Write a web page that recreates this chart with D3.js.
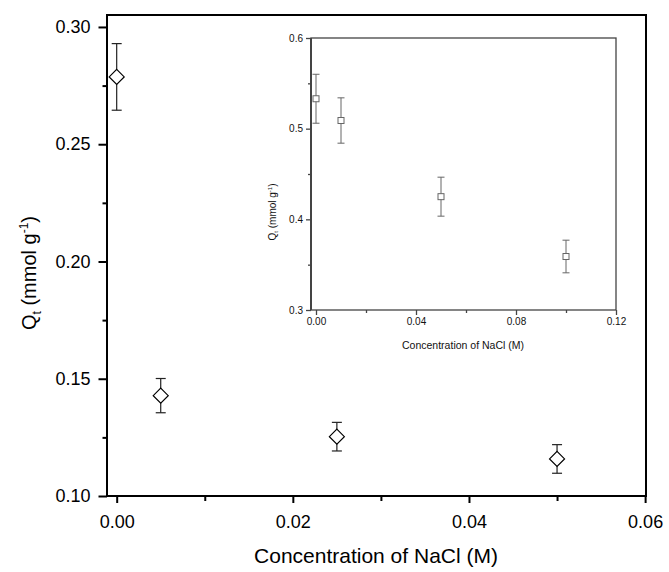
<!DOCTYPE html>
<html><head><meta charset="utf-8">
<script src="https://cdn.jsdelivr.net/npm/d3@7"></script>
<style>body{margin:0;background:#fff;}svg{display:block;font-family:Arial,"Liberation Sans",sans-serif;}</style>
</head><body>
<svg id="c" width="669" height="572"></svg>
<script>
// Main data
const mainX = [0, 0.005, 0.025, 0.05];
const mainY = [0.2787, 0.1428, 0.1253, 0.1158];
const mainErr = [0.0142, 0.0073, 0.0061, 0.0061];
const mainXTicks = [0, 0.02, 0.04, 0.06];
const mainYTicks = [0.10, 0.15, 0.20, 0.25, 0.30];
// Inset data
const insetX = [0, 0.01, 0.05, 0.10];
const insetY = [0.533, 0.509, 0.425, 0.359];
const insetErr = [0.027, 0.025, 0.0215, 0.018];
const insetXTicks = [0, 0.04, 0.08, 0.12];
const insetYTicks = [0.3, 0.4, 0.5, 0.6];

const svg = d3.select("#c");

// Main chart
const M = {l:107, r:646, t:15, b:496};
const x = d3.scaleLinear().domain([-0.0011, 0.0601]).range([M.l, M.r]);
const y = d3.scaleLinear().domain([0.10, 0.3051]).range([M.b, M.t]);

const gm = svg.append("g");
gm.append("rect").attr("x",M.l).attr("y",M.t).attr("width",M.r-M.l).attr("height",M.b-M.t)
  .attr("fill","none").attr("stroke","#000").attr("stroke-width",2);

gm.append("g").attr("transform",`translate(0,${M.b})`)
  .call(d3.axisBottom(x).tickValues(mainXTicks).tickFormat(d3.format(".2f")).tickSize(7).tickPadding(12));
gm.append("g").attr("transform",`translate(0,${M.b})`)
  .call(d3.axisBottom(x).tickValues([0.01,0.03,0.05]).tickFormat("").tickSize(5));
gm.append("g").attr("transform",`translate(${M.l},0)`)
  .call(d3.axisLeft(y).tickValues(mainYTicks).tickFormat(d3.format(".2f")).tickSize(8.5).tickPadding(8));
gm.append("g").attr("transform",`translate(${M.l},0)`)
  .call(d3.axisLeft(y).tickValues([0.125,0.175,0.225,0.275]).tickFormat("").tickSize(4.5));
gm.selectAll(".domain").remove();
gm.selectAll(".tick line").attr("stroke","#000").attr("stroke-width",2);
gm.selectAll(".tick text").attr("fill","#000").attr("font-size",18).attr("font-family","Arial,'Liberation Sans',sans-serif");

gm.append("text").attr("x",376).attr("y",563).attr("text-anchor","middle").attr("font-size",21).text("Concentration of NaCl (M)");
const yl = gm.append("text").attr("transform","translate(36,273) rotate(-90)").attr("text-anchor","middle").attr("font-size",20);
yl.append("tspan").text("Q");
yl.append("tspan").attr("font-size",12).attr("dy",5).text("t");
yl.append("tspan").attr("dy",-5).text(" (mmol g");
yl.append("tspan").attr("font-size",12).attr("dy",-8).text("-1");
yl.append("tspan").attr("dy",8).text(")");

const mainData = mainX.map((d,i)=>({x:d,y:mainY[i],e:mainErr[i]}));
const pts = gm.selectAll(".pt").data(mainData).enter().append("g");
pts.append("line").attr("x1",d=>x(d.x)).attr("x2",d=>x(d.x)).attr("y1",d=>y(d.y+d.e)).attr("y2",d=>y(d.y-d.e)).attr("stroke","#222").attr("stroke-width",1.2);
[1,-1].forEach(s=>{
  pts.append("line").attr("x1",d=>x(d.x)-5).attr("x2",d=>x(d.x)+5).attr("y1",d=>y(d.y+s*d.e)).attr("y2",d=>y(d.y+s*d.e)).attr("stroke","#222").attr("stroke-width",1.2);
});
pts.append("path").attr("d",d=>{const cx=x(d.x),cy=y(d.y),r=7.5;return `M${cx},${cy-r}L${cx+r},${cy}L${cx},${cy+r}L${cx-r},${cy}Z`;})
  .attr("fill","#fff").attr("stroke","#000").attr("stroke-width",1.2);

// Inset
const I = {l:311, r:616, t:38, b:310};
const xi = d3.scaleLinear().domain([-0.002, 0.12]).range([I.l, I.r]);
const yi = d3.scaleLinear().domain([0.3, 0.6]).range([I.b, I.t]);
const gi = svg.append("g");
const ic = "#444";
gi.append("rect").attr("x",I.l).attr("y",I.t).attr("width",I.r-I.l).attr("height",I.b-I.t)
  .attr("fill","#fff").attr("stroke",ic).attr("stroke-width",1.3);
gi.append("line").attr("x1",I.l).attr("x2",I.l).attr("y1",I.t).attr("y2",I.b).attr("stroke",ic).attr("stroke-width",2);
gi.append("g").attr("transform",`translate(0,${I.b})`)
  .call(d3.axisBottom(xi).tickValues(insetXTicks).tickFormat(d3.format(".2f")).tickSize(5).tickPadding(3));
gi.append("g").attr("transform",`translate(0,${I.b})`)
  .call(d3.axisBottom(xi).tickValues([0.02,0.06,0.10]).tickFormat("").tickSize(3));
gi.append("g").attr("transform",`translate(${I.l},0)`)
  .call(d3.axisLeft(yi).tickValues(insetYTicks).tickFormat(d3.format(".1f")).tickSize(5).tickPadding(3));
gi.append("g").attr("transform",`translate(${I.l},0)`)
  .call(d3.axisLeft(yi).tickValues([0.35,0.45,0.55]).tickFormat("").tickSize(3));
gi.selectAll(".domain").remove();
gi.selectAll(".tick line").attr("stroke",ic).attr("stroke-width",1.3);
gi.selectAll(".tick text").attr("fill","#111").attr("font-size",10).attr("font-family","Arial,'Liberation Sans',sans-serif");
gi.append("text").attr("x",463).attr("y",349).attr("text-anchor","middle").attr("font-size",10.5).attr("fill","#111").text("Concentration of NaCl (M)");
const yli = gi.append("text").attr("transform","translate(276,212) rotate(-90)").attr("text-anchor","middle").attr("font-size",10).attr("fill","#111");
yli.append("tspan").text("Q");
yli.append("tspan").attr("font-size",6).attr("dy",2).text("t");
yli.append("tspan").attr("dy",-2).text(" (mmol g");
yli.append("tspan").attr("font-size",6).attr("dy",-4).text("-1");
yli.append("tspan").attr("dy",4).text(")");

const insetData = insetX.map((d,i)=>({x:d,y:insetY[i],e:insetErr[i]}));
const ip = gi.selectAll(".ip").data(insetData).enter().append("g");
const gc = "#666";
ip.append("line").attr("x1",d=>xi(d.x)).attr("x2",d=>xi(d.x)).attr("y1",d=>yi(d.y+d.e)).attr("y2",d=>yi(d.y-d.e)).attr("stroke",gc).attr("stroke-width",1);
[1,-1].forEach(s=>{
  ip.append("line").attr("x1",d=>xi(d.x)-3.5).attr("x2",d=>xi(d.x)+3.5).attr("y1",d=>yi(d.y+s*d.e)).attr("y2",d=>yi(d.y+s*d.e)).attr("stroke",gc).attr("stroke-width",1);
});
ip.append("rect").attr("x",d=>xi(d.x)-3).attr("y",d=>yi(d.y)-3).attr("width",6).attr("height",6)
  .attr("fill","#fff").attr("stroke",gc).attr("stroke-width",1);
</script>
</body></html>
